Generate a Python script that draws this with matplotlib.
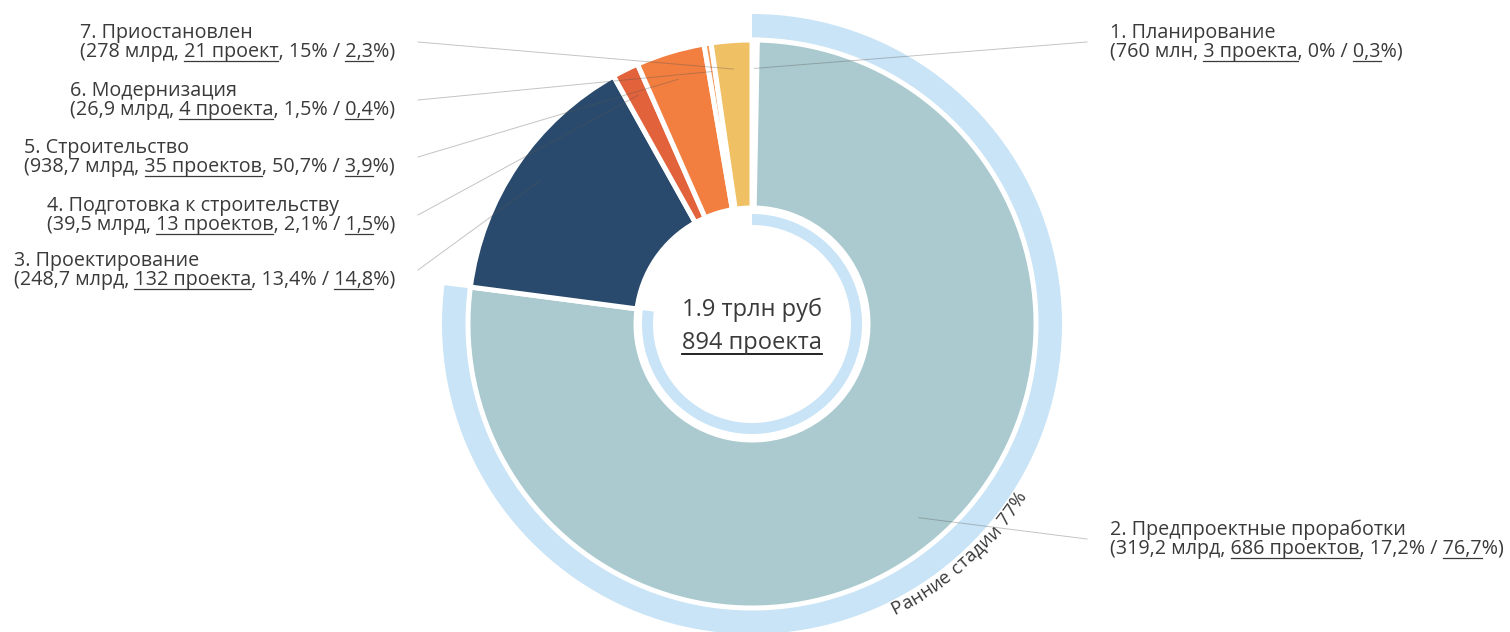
import numpy as np
import matplotlib
matplotlib.use('Agg')
from matplotlib import pyplot as plt

plt.rcParams['font.family'] = ['Open Sans', 'DejaVu Sans']

# data
stages = ['1. Планирование', '2. Предпроектные проработки', '3. Проектирование',
          '4. Подготовка к строительству', '5. Строительство', '6. Модернизация',
          '7. Приостановлен']
money = ['760 млн', '319,2 млрд', '248,7 млрд', '39,5 млрд', '938,7 млрд', '26,9 млрд', '278 млрд']
projects = ['3 проекта', '686 проектов', '132 проекта', '13 проектов', '35 проектов',
            '4 проекта', '21 проект']
money_share = ['0%', '17,2%', '13,4%', '2,1%', '50,7%', '1,5%', '15%']
project_share = [0.3, 76.7, 14.8, 1.5, 3.9, 0.4, 2.3]
colors = ['#FFFFFF', '#AACACF', '#294A6C', '#E2623B', '#F27E40', '#F39A5A', '#F0C064']

early_share = [77, 23]
early_label = 'Ранние стадии 77%'
total_money = '1.9 трлн руб'
total_projects = '894 проекта'

W, H = 1510, 632
fig = plt.figure(figsize=(W / 100, H / 100), dpi=100)
ax = fig.add_axes([0, 0, 1, 1])
renderer = fig.canvas.get_renderer()
txt_color = '#3A3A3A'

cx, cy = 752, H - 324

# outer ring "early stages"
ax.pie(early_share, colors=['#C9E4F6', 'none'], startangle=90, counterclock=False,
       radius=310, center=(cx, cy), wedgeprops=dict(width=24, linewidth=0))
# inner thin ring
ax.pie(early_share, colors=['#C9E4F6', 'none'], startangle=90, counterclock=False,
       radius=110, center=(cx, cy), wedgeprops=dict(width=11, linewidth=0))
# main donut
wedges, _ = ax.pie(project_share, colors=colors, startangle=90, counterclock=False,
                   radius=284, center=(cx, cy),
                   wedgeprops=dict(width=168, edgecolor='white', linewidth=3.6))

ax.set_xlim(0, W)
ax.set_ylim(0, H)
ax.set_aspect('auto')
ax.axis('off')


def text_width(s, size):
    t = ax.text(0, 0, s, fontsize=size)
    w = t.get_window_extent(renderer).width
    t.remove()
    return w


def underline(x0, y, full, seg, size, off=3.5, lw=0.9):
    end = text_width(full, size)
    start = end - text_width(seg, size)
    ax.plot([x0 + start, x0 + end], [y - off, y - off], color=txt_color, lw=lw)


# labels: (x, top line y in px from top, side)
label_pos = [(1110, 30, 'left'), (1110, 527, 'left'), (395, 258, 'right'),
             (395, 203, 'right'), (395, 145, 'right'), (395, 88, 'right'),
             (395, 30, 'right')]
fs = 14.2

for i, w in enumerate(wedges):
    x, ytop, side = label_pos[i]
    pshare = f'{project_share[i]:.1f}'.replace('.', ',')
    line2 = f'({money[i]}, {projects[i]}, {money_share[i]} / {pshare}%)'
    w2 = text_width(line2, fs)
    x0 = x - w2 if side == 'right' else x
    y1 = H - ytop - 8
    y2 = y1 - 19
    ax.text(x0, y1, stages[i], fontsize=fs, color=txt_color, va='baseline')
    ax.text(x0, y2, line2, fontsize=fs, color=txt_color, va='baseline')
    underline(x0, y2, f'({money[i]}, {projects[i]}', projects[i], fs)
    underline(x0, y2, f'({money[i]}, {projects[i]}, {money_share[i]} / {pshare}', pshare, fs)

    # leader line to middle of slice
    th = np.deg2rad((w.theta1 + w.theta2) / 2)
    tx = cx + 0.9 * w.r * np.cos(th)
    ty = cy + 0.9 * w.r * np.sin(th)
    sx = 418 if side == 'right' else 1087
    ax.plot([sx, tx], [H - ytop - 12, ty], color='#555555', lw=0.7, alpha=0.35)

# centre text
cfs = 17
ax.text(cx, cy + 14, total_money, fontsize=cfs, color=txt_color, ha='center', va='center')
ax.text(cx, cy - 25, total_projects, fontsize=cfs, color=txt_color, ha='center',
        va='baseline')
tw = text_width(total_projects, cfs)
ax.plot([cx - tw / 2, cx + tw / 2], [cy - 30, cy - 30], color='#111111', lw=1.3)

# curved label along the outer ring
rfs = 13.5
R = 319
theta_c = np.deg2rad(-48)
widths = [text_width(c, rfs) if c != ' ' else text_width('a a', rfs) - text_width('aa', rfs)
          for c in early_label]
total = sum(widths)
pos = -total / 2
for c, cw in zip(early_label, widths):
    th = theta_c + (pos + cw / 2) / R
    ax.text(cx + R * np.cos(th), cy + R * np.sin(th), c, fontsize=rfs, color=txt_color,
            rotation=np.rad2deg(th) + 90, ha='center', va='center',
            rotation_mode='anchor')
    pos += cw

fig.savefig('out.png', dpi=100)
